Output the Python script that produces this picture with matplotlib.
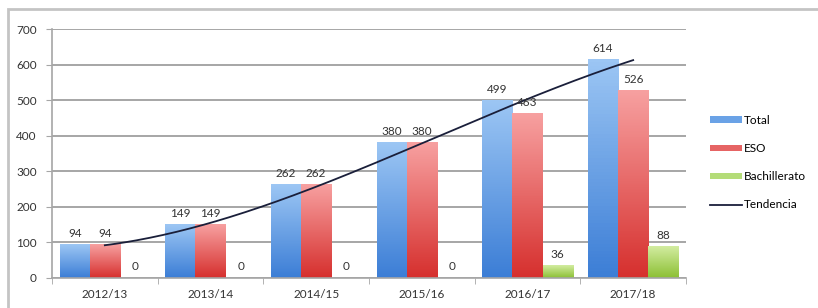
import numpy as np
import matplotlib
matplotlib.use("Agg")
import matplotlib.pyplot as plt
from matplotlib.colors import LinearSegmentedColormap
from matplotlib.patches import Rectangle
from matplotlib.lines import Line2D
from matplotlib.patches import Patch

# datos
cursos = ["2012/13", "2013/14", "2014/15", "2015/16", "2016/17", "2017/18"]
total = [94, 149, 262, 380, 499, 614]
eso = [94, 149, 262, 380, 463, 526]
bachillerato = [0, 0, 0, 0, 36, 88]

series = [
    ("Total", total, ("#9cc6f4", "#3c7ed6")),
    ("ESO", eso, ("#f7a0a0", "#d6302e")),
    ("Bachillerato", bachillerato, ("#d2eca0", "#8cc034")),
]

plt.rcParams["font.family"] = ["Lato", "DejaVu Sans"]

fig = plt.figure(figsize=(8.18, 3.08), dpi=100)
ax = fig.add_axes([52 / 818, 1 - 278 / 308, (686 - 52) / 818, (278 - 29) / 308])

# marco exterior
fig.patches.append(Rectangle((8 / 818, -0.1), 1.2, 1 - 9 / 308 + 0.1,
                             transform=fig.transFigure, fill=False,
                             edgecolor="#c4c4c4", linewidth=2))

x = np.arange(len(cursos))
w = 0.285
grey = "#a6a6a6"
txt = "#333333"

for k, (name, vals, (c_top, c_bot)) in enumerate(series):
    bars = ax.bar(x + (k - 1) * w, vals, width=w, color="none", zorder=2)
    cmap = LinearSegmentedColormap.from_list(name, [c_bot, c_top])
    grad = np.linspace(0, 1, 64).reshape(-1, 1)
    for b, v in zip(bars, vals):
        if v > 0:
            ax.imshow(grad, extent=[b.get_x(), b.get_x() + b.get_width(), 0, v],
                      origin="lower", aspect="auto", cmap=cmap, zorder=2)
        ax.annotate(str(v), (b.get_x() + b.get_width() / 2, v),
                    xytext=(0, 4), textcoords="offset points",
                    ha="center", va="bottom", fontsize=8.5, color=txt, zorder=4)

# tendencia (ajuste polinómico de Total, como Excel)
coef = np.polyfit(x, total, 3)
xs = np.linspace(0, 5, 200)
ax.plot(xs, np.polyval(coef, xs), color="#1a1f3a", linewidth=1.3, zorder=3)

ax.set_xlim(-0.5, 5.5)
ax.set_ylim(0, 700)
ax.set_yticks(range(0, 701, 100))
ax.set_xticks(x)
ax.set_xticklabels(cursos, fontsize=8.5, color=txt)
ax.set_xticks(np.arange(-0.5, 6, 1), minor=True)
ax.tick_params(axis="x", which="major", length=0, pad=8)
ax.tick_params(axis="x", which="minor", length=4, color=grey, direction="out")
ax.tick_params(axis="y", length=4, color=grey, labelsize=8.5, labelcolor=txt, pad=7)
ax.yaxis.grid(True, color=grey, linewidth=1.4, zorder=0)
ax.set_axisbelow(True)
for s in ["top", "right"]:
    ax.spines[s].set_visible(False)
for s in ["left", "bottom"]:
    ax.spines[s].set_color(grey)
    ax.spines[s].set_linewidth(1.2)

handles = [
    Patch(facecolor="#6aa2e6", edgecolor="none"),
    Patch(facecolor="#e66464", edgecolor="none"),
    Patch(facecolor="#b4dc78", edgecolor="none"),
    Line2D([0], [0], color="#1a1f3a", linewidth=1.3),
]
labels = ["Total", "ESO", "Bachillerato", "Tendencia"]
fig.legend(handles, labels, loc="upper left", bbox_to_anchor=(710 / 818, 1 - 115 / 308),
           frameon=False, fontsize=8.5, handlelength=2.7, handleheight=0.5,
           handletextpad=0.15, labelspacing=1.45, borderaxespad=0, borderpad=0)

fig.savefig("out.png", dpi=100)
